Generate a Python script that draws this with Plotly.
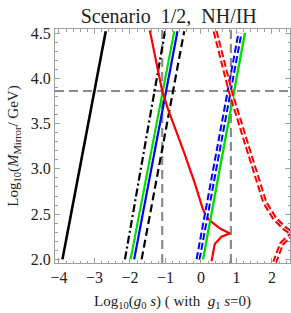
import plotly.graph_objects as go

# ---- data ----
black_solid_x = [-3.90, -2.68]
black_solid_y = [2.00, 4.52]
black_dashdot_x = [-2.14, -1.01]
black_dashdot_y = [2.00, 4.52]
green_left_x = [-1.98, -0.75]
green_left_y = [2.00, 4.52]
blue_left_x = [-1.88, -0.66]
blue_left_y = [2.00, 4.52]
black_dashed_x = [-1.67, -0.47]
black_dashed_y = [2.00, 4.52]

red_solid_x = [-1.44, -1.09, -0.91, -0.50, -0.17, 0.05, 0.16, 0.25, 0.54, 0.82, 0.58, 0.39, 0.30]
red_solid_y = [4.53, 3.86, 3.64, 3.21, 2.84, 2.56, 2.47, 2.43, 2.34, 2.285, 2.25, 2.17, 1.98]

blue_right_x = [-0.08, 1.10]
blue_right_y = [2.00, 4.50]
green_right_x = [0.06, 1.24]
green_right_y = [2.00, 4.50]

red_dashed_x = [0.40, 0.82, 1.25, 1.68, 1.80, 2.08, 2.37, 2.60, 2.45, 2.27, 2.08]
red_dashed_y = [4.52, 3.87, 3.32, 2.78, 2.63, 2.45, 2.34, 2.28, 2.24, 2.17, 1.97]

h_line_y = 3.86
v_lines_x = [-1.09, 0.845]

x_range = [-4.11, 2.51]
y_range = [1.96, 4.545]

fig = go.Figure()

def add(x, y, color, width, dash="solid"):
    fig.add_trace(go.Scatter(x=x, y=y, mode="lines", showlegend=False,
                             line=dict(color=color, width=width, dash=dash)))

gray = "#8c8c8c"
# reference lines
add([x_range[0], x_range[1]], [h_line_y, h_line_y], gray, 2.2, "9px,5px")
for vx in v_lines_x:
    add([vx, vx], [y_range[0], y_range[1]], gray, 2.2, "9px,5px")

add(black_solid_x, black_solid_y, "black", 2.6)
add(black_dashdot_x, black_dashdot_y, "black", 2.2, "8px,3px,2px,3px")
add(green_left_x, green_left_y, "#00e000", 2.2)
add(blue_left_x, blue_left_y, "#0000ff", 2.2)
add(black_dashed_x, black_dashed_y, "black", 2.2, "8px,4px")
add(red_solid_x, red_solid_y, "#ff0000", 2.2)

add(green_right_x, green_right_y, "#00e000", 2.4)
add(blue_right_x, blue_right_y, "#0000ff", 5, "7px,3px")
add(blue_right_x, blue_right_y, "white", 1.0)
add(red_dashed_x, red_dashed_y, "#ff0000", 5, "7px,3px")
add(red_dashed_x, red_dashed_y, "white", 1.0)

serif = "Liberation Serif, Times New Roman, serif"
axis_common = dict(showline=True, linecolor="#a0a0a0", linewidth=1, mirror="allticks",
                   ticks="inside", tickcolor="#a0a0a0", ticklen=5, showgrid=False,
                   zeroline=False, automargin=False,
                   tickfont=dict(family=serif, size=16, color="#222"))

fig.update_xaxes(range=x_range, tickvals=[-4, -3, -2, -1, 0, 1, 2],
                 ticktext=["\u22124", "\u22123", "\u22122", "\u22121", "0", "1", "2"],
                 minor=dict(ticks="inside", dtick=0.2, ticklen=2.5, tickcolor="#a0a0a0"),
                 title=dict(text="Log<sub>10</sub>(<i>g</i><sub>0</sub> <i>s</i>) ( with  <i>g</i><sub>1</sub> <i>s</i>=0)",
                            font=dict(family=serif, size=15, color="#222"), standoff=10),
                 **axis_common)
fig.update_yaxes(range=y_range, tickvals=[2.0, 2.5, 3.0, 3.5, 4.0, 4.5],
                 ticktext=["2.0", "2.5", "3.0", "3.5", "4.0", "4.5"],
                 minor=dict(ticks="inside", dtick=0.1, ticklen=2.5, tickcolor="#a0a0a0"),
                 title=dict(text="Log<sub>10</sub>(<i>M</i><sub>Mirror</sub>/ GeV)",
                            font=dict(family=serif, size=15, color="#222"), standoff=8),
                 **axis_common)

fig.update_layout(
    width=291, height=313,
    margin=dict(l=55, r=1, t=29, b=50),
    plot_bgcolor="white", paper_bgcolor="white",
    title=dict(text="Scenario  1/2,  NH/IH", x=0.58, xanchor="center", y=0.95, yanchor="middle",
               font=dict(family=serif, size=20, color="#222")),
)

fig.write_html("out.html", config={"displayModeBar": False},
               post_script="document.body.style.margin='0';document.body.style.overflow='hidden';")
